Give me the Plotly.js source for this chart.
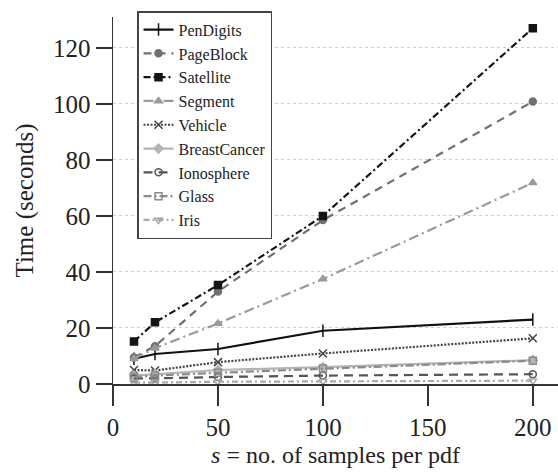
<!DOCTYPE html>
<html>
<head>
<meta charset="utf-8">
<script src="https://cdn.plot.ly/plotly-3.0.1.min.js"></script>
<style>html,body{margin:0;padding:0;background:#fff;}</style>
</head>
<body>
<div id="chart" style="width:558px;height:472px"></div>
<script>
var samples = [10, 20, 50, 100, 200];
var seriesNames = ["PenDigits", "PageBlock", "Satellite", "Segment", "Vehicle", "BreastCancer", "Ionosphere", "Glass", "Iris"];
var penDigits    = [9.0, 10.7, 12.5, 19.0, 23.0];
var pageBlock    = [9.5, 13.5, 33.0, 58.5, 100.8];
var satellite    = [15.2, 22.0, 35.3, 60.0, 127.0];
var segment      = [9.0, 12.8, 21.6, 37.5, 71.8];
var vehicle      = [5.0, 4.8, 7.8, 10.9, 16.3];
var breastCancer = [3.0, 3.5, 5.0, 6.0, 8.5];
var ionosphere   = [2.0, 2.0, 2.5, 3.0, 3.5];
var glass        = [2.5, 3.0, 4.0, 5.5, 8.3];
var iris         = [0.5, 0.5, 0.8, 1.0, 1.2];
var xTicks = [0, 50, 100, 150, 200];
var yTicks = [0, 20, 40, 60, 80, 100, 120];

var values = [penDigits, pageBlock, satellite, segment, vehicle, breastCancer, ionosphere, glass, iris];
var styles = [
  {color:"#111111", dash:"solid", symbol:"line-ns-open", size:9},
  {color:"#707070", dash:"8px,6px", symbol:"circle", size:7},
  {color:"#151515", dash:"7px,3px,2px,3px", symbol:"square", size:7},
  {color:"#9a9a9a", dash:"10px,4px,2px,4px", symbol:"triangle-up", size:7},
  {color:"#444444", dash:"2px,1.5px", symbol:"x-thin-open", size:8},
  {color:"#b4b4b4", dash:"solid", symbol:"diamond", size:7},
  {color:"#555555", dash:"9px,6px", symbol:"circle-open", size:7},
  {color:"#8a8a8a", dash:"8px,3px,2px,3px", symbol:"square-open", size:7},
  {color:"#a8a8a8", dash:"6px,3px,2px,3px", symbol:"triangle-down-open", size:7}
];

var traces = seriesNames.map(function(name, i){
  var s = styles[i];
  return {
    x: samples, y: values[i], name: name, type: "scatter", mode: "lines+markers",
    line: {color: s.color, width: 2.2, dash: s.dash},
    marker: {symbol: s.symbol, size: s.size, color: s.color, line: {color: s.color, width: 1.5}},
    xaxis: "x", yaxis: "y"
  };
});

var fam = "Liberation Serif";
var layout = {
  width: 558, height: 472,
  margin: {l: 113, r: 0, t: 17, b: 88},
  font: {family: fam, size: 25},
  showlegend: true,
  legend: {
    x: 0.054, y: 1.016, xanchor: "left", yanchor: "top",
    bgcolor: "#ffffff", bordercolor: "#444444", borderwidth: 1.5,
    font: {family: fam, size: 16, color: "#222222"},
    tracegroupgap: 0
  },
  xaxis: {
    range: [0, 212], tickvals: xTicks, ticktext: xTicks.map(String),
    showgrid: false, zeroline: false,
    showline: true, linecolor: "#333333", linewidth: 1.5,
    ticks: "outside", ticklen: 20, tickwidth: 1.5, tickcolor: "#333333",
    tickfont: {family: fam, size: 25, color: "#222222"},
    title: {text: "<i>s</i> = no. of samples per pdf", font: {family: fam, size: 24, color: "#222222"}, standoff: 6},
    automargin: false
  },
  yaxis: {
    range: [0, 131], tickvals: yTicks, ticktext: yTicks.map(String),
    showgrid: true, gridcolor: "#cfcfcf", griddash: "dot", gridwidth: 1,
    zeroline: false,
    showline: true, linecolor: "#333333", linewidth: 1.5,
    ticks: "outside", ticklen: 16, tickwidth: 1.5, tickcolor: "#333333",
    tickfont: {family: fam, size: 25, color: "#222222"},
    title: {text: "Time (seconds)", font: {family: fam, size: 25, color: "#222222"}, standoff: 12},
    automargin: false
  },
  xaxis2: {
    overlaying: "x", anchor: "y", range: [0, 212], tickvals: samples,
    showgrid: true, gridcolor: "#d0d0d0", griddash: "dash", gridwidth: 1,
    showticklabels: false, ticks: "", showline: false, zeroline: false
  },
  yaxis2: {
    overlaying: "y", anchor: "x", range: [0, 131], tickvals: [100],
    showgrid: true, gridcolor: "#d0d0d0", griddash: "dash", gridwidth: 1,
    showticklabels: false, ticks: "", showline: false, zeroline: false
  }
};

function draw(){
  Plotly.newPlot("chart", traces, layout, {displayModeBar: false, staticPlot: true});
}
if (document.fonts && document.fonts.load) {
  document.fonts.load('25px "Liberation Serif"').then(draw, draw);
} else {
  draw();
}
</script>
</body>
</html>
